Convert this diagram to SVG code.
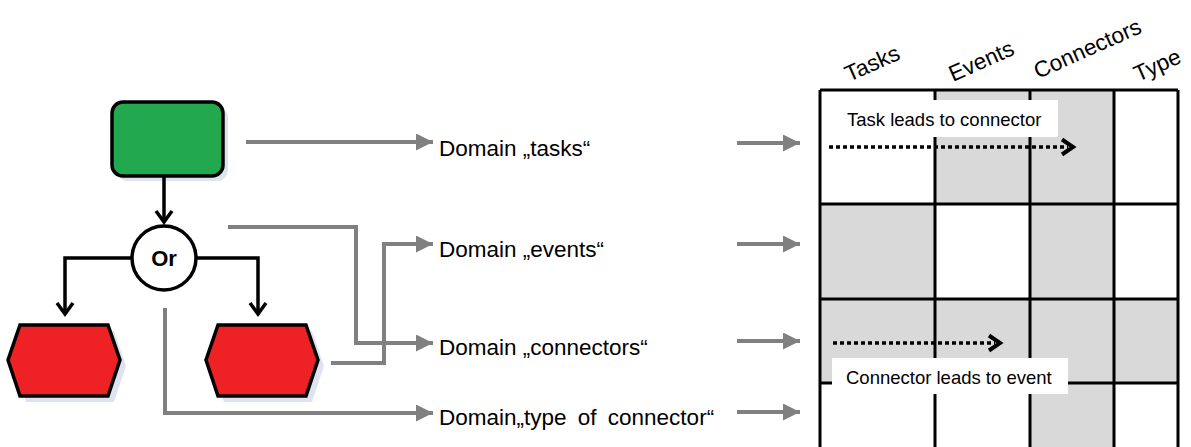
<svg xmlns="http://www.w3.org/2000/svg" width="1191" height="447" viewBox="0 0 1191 447">
<style>
.t{font-family:"Liberation Sans",Arial,sans-serif;fill:#000}
.dom{font-size:22.5px}
.hdr{font-size:22.5px}
.lbl{font-size:18.5px}
.blk{fill:none;stroke:#000;stroke-width:3.5}
.gry{fill:none;stroke:#808080;stroke-width:4}
.grid{fill:none;stroke:#000;stroke-width:3}
.g{fill:#d9d9d9}
.sh{fill:#dde4ef}
.dot{fill:none;stroke:#000;stroke-width:3.5;stroke-dasharray:4 3}
.chev{fill:none;stroke:#000;stroke-width:4;stroke-linejoin:miter}
</style>
<defs>
<marker id="ga" markerUnits="userSpaceOnUse" markerWidth="18" markerHeight="18" refX="17" refY="8.5" orient="auto">
<path d="M0,0 L17,8.5 L0,17 z" fill="#808080"/>
</marker>
<marker id="ba" markerUnits="userSpaceOnUse" markerWidth="24" markerHeight="24" refX="12" refY="12" orient="auto">
<path d="M1,4 L12,12 L1,20" fill="none" stroke="#000" stroke-width="3.5"/>
</marker>
</defs>
<rect width="1191" height="447" fill="#fff"/>

<g id="task">
<rect class="sh" x="117" y="107" width="111" height="74" rx="11"/>
<rect x="112" y="102" width="111" height="74" rx="11" fill="#22a94f" stroke="#000" stroke-width="3.5"/>
</g>
<g id="or">
<circle cx="164" cy="258" r="32" fill="#fff" stroke="#000" stroke-width="3.5"/>
<text class="t" x="164" y="266" font-size="22" font-weight="bold" text-anchor="middle">Or</text>
</g>
<g id="event-left">
<polygon class="sh" points="26,331 114,331 126,366 114,402 26,402 14,366"/>
<polygon points="20,325 108,325 120,360 108,396 20,396 8,360" fill="#ee2224" stroke="#000" stroke-width="3.5"/>
</g>
<g id="event-right">
<polygon class="sh" points="224,331 312,331 324,366 312,402 224,402 212,366"/>
<polygon points="218,325 306,325 318,360 306,396 218,396 206,360" fill="#ee2224" stroke="#000" stroke-width="3.5"/>
</g>

<g id="connectors">
<path class="blk" d="M164,176 V222" marker-end="url(#ba)"/>
<path class="blk" d="M132,258 H65 V314" marker-end="url(#ba)"/>
<path class="blk" d="M196,258 H258 V314" marker-end="url(#ba)"/>
<path class="gry" d="M246,142 H433" marker-end="url(#ga)"/>
<path class="gry" d="M228,227 H356 V343 H433" marker-end="url(#ga)"/>
<path class="gry" d="M331,363 H384 V244 H433" marker-end="url(#ga)"/>
<path class="gry" d="M165,308 V413 H433" marker-end="url(#ga)"/>
<path class="gry" d="M737,143 H800" marker-end="url(#ga)"/>
<path class="gry" d="M737,244 H800" marker-end="url(#ga)"/>
<path class="gry" d="M737,341 H800" marker-end="url(#ga)"/>
<path class="gry" d="M737,412 H800" marker-end="url(#ga)"/>
</g>

<g id="domains">
<text class="t dom" x="439" y="156">Domain „tasks“</text>
<text class="t dom" x="439" y="257">Domain „events“</text>
<text class="t dom" x="439" y="355">Domain „connectors“</text>
<text class="t dom" x="439" y="425" word-spacing="5">Domain„type of connector“</text>
</g>

<g id="matrix">
<rect class="g" x="935" y="90" width="95" height="114"/>
<rect class="g" x="1030" y="90" width="84" height="114"/>
<rect class="g" x="820" y="204" width="115" height="95"/>
<rect class="g" x="1030" y="204" width="84" height="95"/>
<rect class="g" x="820" y="299" width="358" height="84"/>
<rect class="g" x="1030" y="383" width="84" height="64"/>
<path class="grid" d="M820,90 H1178 M820,204 H1178 M820,299 H1178 M820,383 H1178 M820,90 V447 M935,90 V447 M1030,90 V447 M1114,90 V447 M1178,90 V447"/>
<text class="t hdr" transform="translate(849,82) rotate(-24)">Tasks</text>
<text class="t hdr" transform="translate(953,82) rotate(-24)">Events</text>
<text class="t hdr" transform="translate(1038,79) rotate(-24)">Connectors</text>
<text class="t hdr" transform="translate(1138,82) rotate(-24)">Type</text>
</g>

<g id="note-task">
<rect x="822" y="100" width="236" height="37" fill="#fff"/>
<text class="t lbl" x="847" y="126">Task leads to connector</text>
<path class="dot" d="M829,147 H1068"/>
<path class="chev" d="M1062,139.5 L1073,147 L1062,154.5"/>
</g>
<g id="note-connector">
<rect x="832" y="358" width="236" height="36" fill="#fff"/>
<text class="t lbl" x="846" y="384">Connector leads to event</text>
<path class="dot" d="M833,343 H995"/>
<path class="chev" d="M989,335.5 L1000,343 L989,350.5"/>
</g>
</svg>
